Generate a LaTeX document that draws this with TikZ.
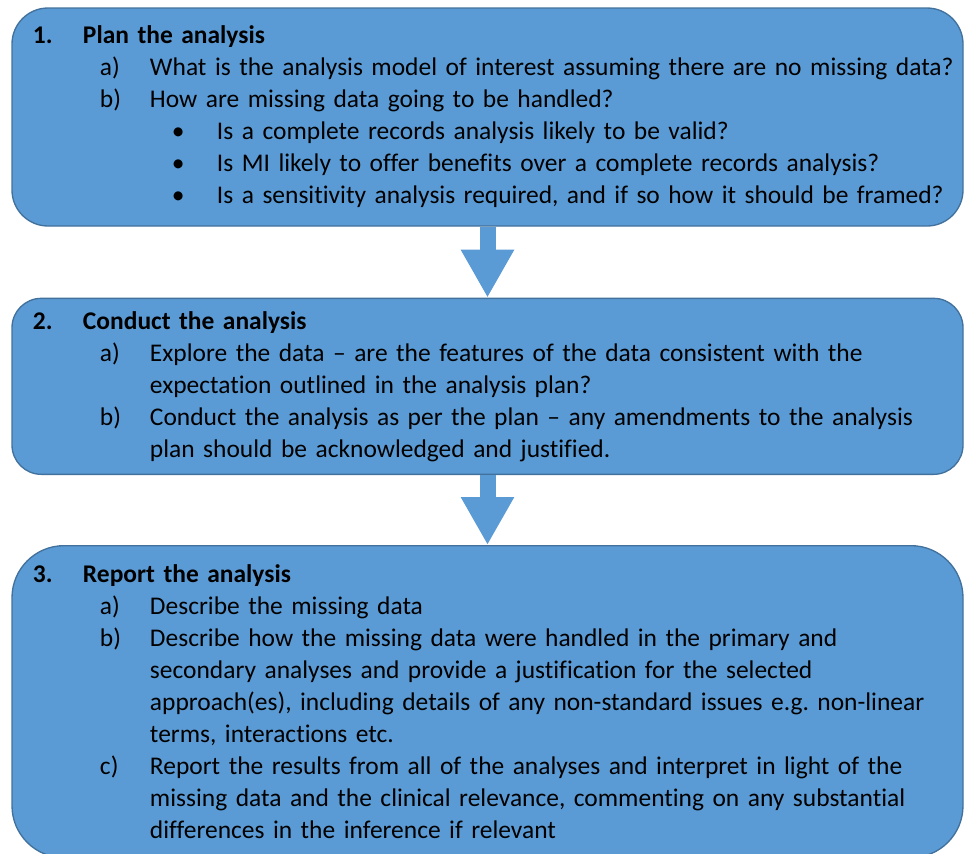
\documentclass[tikz,border=0pt]{standalone}
\usepackage{fontspec}
\setmainfont{Carlito}[Ligatures={NoCommon}]
\usepackage{xcolor}
\usepackage{tikz}
\usetikzlibrary{positioning}
\usetikzlibrary{arrows.meta}
\definecolor{stagefill}{HTML}{5B9BD5}
\definecolor{stageline}{HTML}{41719C}
\tikzset{%
  stage/.style = {draw=stageline, fill=stagefill, line width=1pt, rectangle,
    minimum width=713.25pt, text width=713.25pt, inner xsep=0pt,
    align=left, font=\fontsize{19.1}{24}\selectfont\frenchspacing}, % box
  flow/.style  = {draw=stagefill, line width=12pt,
    -{Triangle[width=37.5pt, length=36pt]}} % block arrow
}
\newcommand{\headline}[2]{\hspace*{15.75pt}\makebox[37.5pt][l]{\bfseries #1}\textbf{#2}}
\newcommand{\letteritem}[2]{\hspace*{66pt}\makebox[37.5pt][l]{#1}#2}
\newcommand{\moreline}[1]{\hspace*{103.5pt}#1}
\newcommand{\dotitem}[1]{\hspace*{120pt}\makebox[33.75pt][l]{\textbullet}#1}

\begin{document}
\begin{tikzpicture}[x=0.75pt, y=-0.75pt]
  \useasboundingbox (0,0) rectangle (965,854);

  \draw node at (487.5,117) [stage, minimum height=163.5pt, rounded corners=27pt] (plan) {%
    \headline{1.}{Plan the analysis}\\
    \letteritem{a)}{What is the analysis model of interest assuming there are no missing data?}\\
    \letteritem{b)}{How are missing data going to be handled?}\\
    \dotitem{Is a complete records analysis likely to be valid?}\\
    \dotitem{Is MI likely to offer benefits over a complete records analysis?}\\
    \dotitem{Is a sensitivity analysis required, and if so how it should be framed?}};

  \draw node [stage, below=53.25pt of plan, minimum height=132pt, rounded corners=22pt] (conduct) {%
    \headline{2.}{Conduct the analysis}\\
    \letteritem{a)}{Explore the data -- are the features of the data consistent with the}\\
    \moreline{expectation outlined in the analysis plan?}\\
    \letteritem{b)}{Conduct the analysis as per the plan -- any amendments to the analysis}\\
    \moreline{plan should be acknowledged and justified.}};

  \draw node [stage, below=52.5pt of conduct, minimum height=234pt, rounded corners=39pt] (report) {%
    \headline{3.}{Report the analysis}\\
    \letteritem{a)}{Describe the missing data}\\
    \letteritem{b)}{Describe how the missing data were handled in the primary and}\\
    \moreline{secondary analyses and provide a justification for the selected}\\
    \moreline{approach(es), including details of any non-standard issues e.g. non-linear}\\
    \moreline{terms, interactions etc.}\\
    \letteritem{c)}{Report the results from all of the analyses and interpret in light of the}\\
    \moreline{missing data and the clinical relevance, commenting on any substantial}\\
    \moreline{differences in the inference if relevant}};

  \draw[flow] (plan) -- (conduct);
  \draw[flow] (conduct) -- (report);

\end{tikzpicture}
\end{document}
